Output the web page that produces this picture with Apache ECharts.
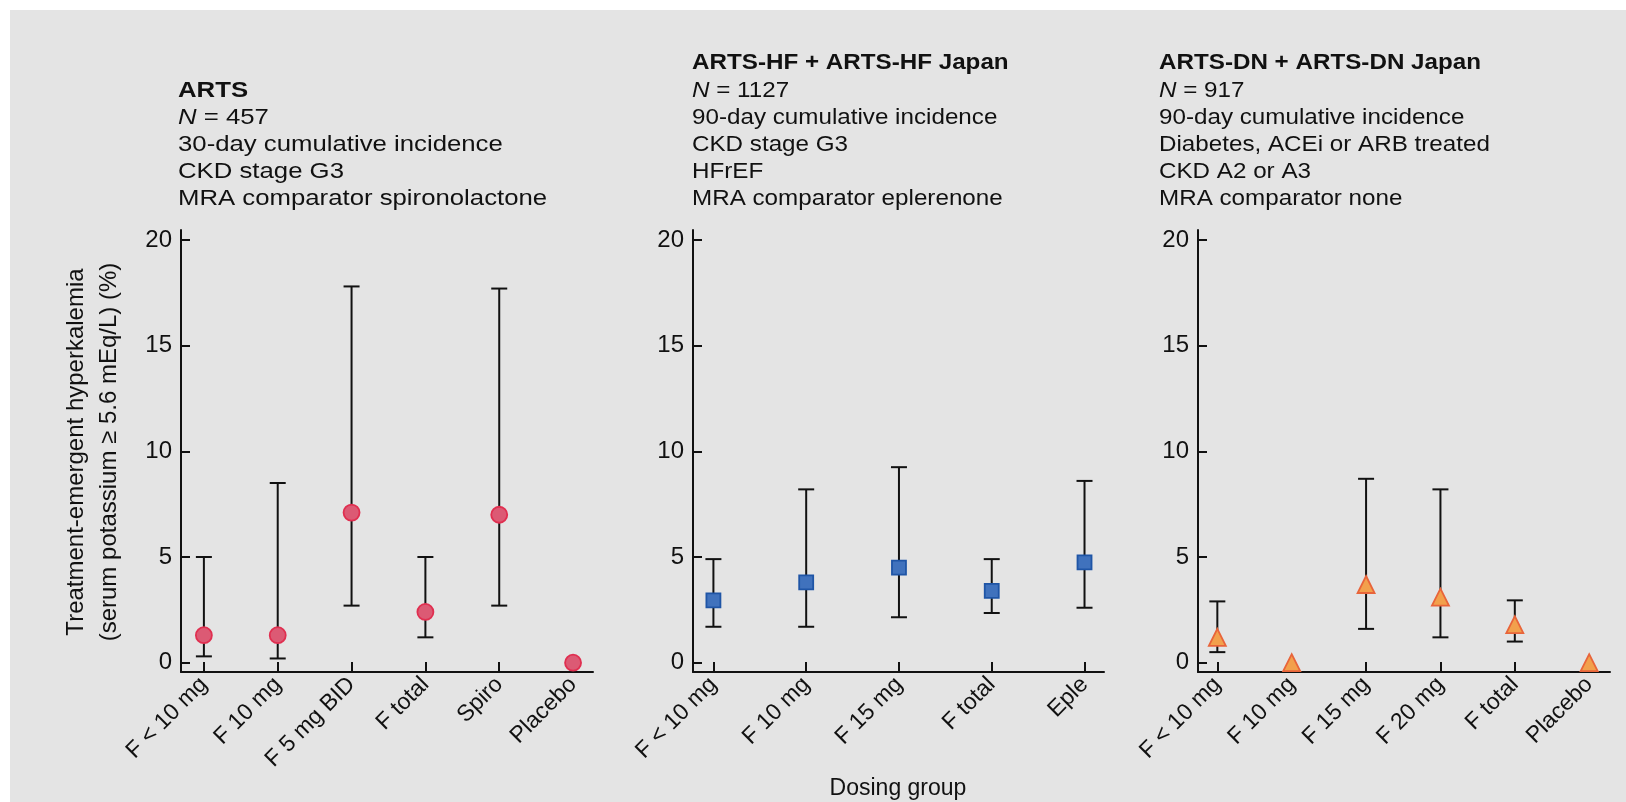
<!DOCTYPE html>
<html>
<head>
<meta charset="utf-8">
<script src="https://cdn.jsdelivr.net/npm/echarts@6/dist/echarts.min.js"></script>
<style>
  html, body { margin: 0; padding: 0; background: #ffffff; }
  #chart { width: 1626px; height: 802px; }
</style>
</head>
<body>
<div id="chart"></div>
<script>
// ---- Data: cumulative incidence of hyperkalemia (%) with 95% CI ----
// ARTS
const cats1 = ['F < 10 mg', 'F 10 mg', 'F 5 mg BID', 'F total', 'Spiro', 'Placebo'];
const est1  = [1.3, 1.3, 7.1, 2.4, 7.0, 0];
const lo1   = [0.3, 0.2, 2.7, 1.2, 2.7, null];
const hi1   = [5.0, 8.5, 17.8, 5.0, 17.7, null];

// ARTS-HF + ARTS-HF Japan
const cats2 = ['F < 10 mg', 'F 10 mg', 'F 15 mg', 'F total', 'Eple'];
const est2  = [2.95, 3.8, 4.5, 3.4, 4.75];
const lo2   = [1.7, 1.7, 2.15, 2.35, 2.6];
const hi2   = [4.9, 8.2, 9.25, 4.9, 8.6];

// ARTS-DN + ARTS-DN Japan
const cats3 = ['F < 10 mg', 'F 10 mg', 'F 15 mg', 'F 20 mg', 'F total', 'Placebo'];
const est3  = [1.2, 0, 3.7, 3.1, 1.8, 0];
const lo3   = [0.5, null, 1.6, 1.2, 1.0, null];
const hi3   = [2.9, null, 8.7, 8.2, 2.95, null];

const yTicks = [0, 5, 10, 15, 20];

const headers = [
  { title: 'ARTS', n: '457', lines: ['30-day cumulative incidence', 'CKD stage G3', 'MRA comparator spironolactone'] },
  { title: 'ARTS-HF + ARTS-HF Japan', n: '1127', lines: ['90-day cumulative incidence', 'CKD stage G3', 'HFrEF', 'MRA comparator eplerenone'] },
  { title: 'ARTS-DN + ARTS-DN Japan', n: '917', lines: ['90-day cumulative incidence', 'Diabetes, ACEi or ARB treated', 'CKD A2 or A3', 'MRA comparator none'] }
];
const yAxisTitle = ['Treatment-emergent hyperkalemia', '(serum potassium \u2265 5.6 mEq/L) (%)'];
const xAxisTitle = 'Dosing group';

// ---- Layout ----
const FONT = '"Liberation Sans", Arial, Helvetica, sans-serif';
const INK = '#111111';
const panels = [
  { cats: cats1, est: est1, lo: lo1, hi: hi1, left: 181, width: 412, xmin: -0.31, xmax: 5.27,
    symbol: 'circle', size: 16, fill: '#dc5a74', stroke: '#e02f50', capHalf: 8, hx: 178, sx: 1.17 },
  { cats: cats2, est: est2, lo: lo2, hi: hi2, left: 693, width: 411, xmin: -0.22, xmax: 4.21,
    symbol: 'rect', size: 14, fill: '#4072bd', stroke: '#1f55a6', capHalf: 8, hx: 692, sx: 1.1 },
  { cats: cats3, est: est3, lo: lo3, hi: hi3, left: 1198, width: 412, xmin: -0.26, xmax: 5.28,
    symbol: 'triangle', size: 17, fill: '#f2a04c', stroke: '#e8643a', capHalf: 8, hx: 1159, sx: 1.1 }
];
const GRID_TOP = 230, GRID_H = 442;
const HEADER_BOTTOM = 213;   // headers share a common last line

const chart = echarts.init(document.getElementById('chart'), null, { renderer: 'canvas' });

const grid = [], xAxis = [], yAxis = [], series = [];

panels.forEach((p, i) => {
  grid.push({ left: p.left, top: GRID_TOP, width: p.width, height: GRID_H, containLabel: false });
  const idx = p.cats.map((_, k) => k);
  xAxis.push({
    type: 'value', gridIndex: i, min: p.xmin, max: p.xmax,
    axisLine: { onZero: false, lineStyle: { color: INK, width: 2 } },
    axisTick: { inside: true, length: 10, customValues: idx, lineStyle: { color: INK, width: 2 } },
    axisLabel: {
      customValues: idx, rotate: 45, margin: 9, color: INK,
      fontFamily: FONT, fontSize: 23,
      formatter: v => p.cats[Math.round(v)]
    },
    splitLine: { show: false }
  });
  yAxis.push({
    type: 'value', gridIndex: i, min: -0.44, max: 20.47,
    axisLine: { show: true, onZero: false, lineStyle: { color: INK, width: 2 } },
    axisTick: { inside: true, length: 9, customValues: yTicks, lineStyle: { color: INK, width: 2 } },
    axisLabel: { customValues: yTicks, margin: 9, color: INK, fontFamily: FONT, fontSize: 24 },
    splitLine: { show: false }
  });

  // confidence intervals
  const ci = [];
  p.est.forEach((_, k) => { if (p.lo[k] != null && p.hi[k] != null) ci.push([k, p.lo[k], p.hi[k]]); });
  series.push({
    type: 'custom', xAxisIndex: i, yAxisIndex: i, data: ci, z: 3, silent: true,
    renderItem: (params, api) => {
      const a = api.coord([api.value(0), api.value(1)]);
      const b = api.coord([api.value(0), api.value(2)]);
      const w = p.capHalf;
      const st = { stroke: INK, lineWidth: 2 };
      return {
        type: 'group',
        children: [
          { type: 'line', shape: { x1: a[0], y1: a[1], x2: b[0], y2: b[1] }, style: st },
          { type: 'line', shape: { x1: a[0] - w, y1: a[1], x2: a[0] + w, y2: a[1] }, style: st },
          { type: 'line', shape: { x1: b[0] - w, y1: b[1], x2: b[0] + w, y2: b[1] }, style: st }
        ]
      };
    }
  });

  // point estimates
  series.push({
    type: 'scatter', xAxisIndex: i, yAxisIndex: i, z: 5, silent: true,
    symbol: p.symbol, symbolSize: p.size,
    itemStyle: { color: p.fill, borderColor: p.stroke, borderWidth: 1.8, opacity: 1 },
    data: p.est.map((v, k) => [k, v])
  });
});

// panel headers
const graphic = [
  { type: 'rect', z: -10, silent: true, shape: { x: 10, y: 10, width: 1616, height: 792 }, style: { fill: '#e4e4e4' } }
];
headers.forEach((h, i) => {
  const p = panels[i];
  const text = ['{b|' + h.title + '}', '{i|N} = ' + h.n].concat(h.lines).join('\n');
  graphic.push({
    type: 'text', x: p.hx, y: HEADER_BOTTOM, scaleX: p.sx, silent: true,
    style: {
      text: text, fill: INK, font: '22px ' + FONT, lineHeight: 27.2,
      textAlign: 'left', textVerticalAlign: 'bottom',
      rich: {
        b: { fontWeight: 'bold', fontSize: 22, fontFamily: FONT, lineHeight: 27.2, fill: INK },
        i: { fontStyle: 'italic', fontSize: 22, fontFamily: FONT, lineHeight: 27.2, fill: INK }
      }
    }
  });
});
// y axis title (two lines, rotated)
graphic.push({
  type: 'text', x: 93, y: 452, rotation: Math.PI / 2, silent: true,
  style: {
    text: yAxisTitle.join('\n'), fill: INK, font: '24px ' + FONT, lineHeight: 33,
    textAlign: 'center', textVerticalAlign: 'middle'
  }
});
// x axis title
graphic.push({
  type: 'text', x: 898, y: 789, silent: true,
  style: { text: xAxisTitle, fill: INK, font: '23px ' + FONT, textAlign: 'center', textVerticalAlign: 'middle' }
});

chart.setOption({
  backgroundColor: '#ffffff',
  animation: false,
  grid: grid,
  xAxis: xAxis,
  yAxis: yAxis,
  series: series,
  graphic: graphic
});
</script>
</body>
</html>
